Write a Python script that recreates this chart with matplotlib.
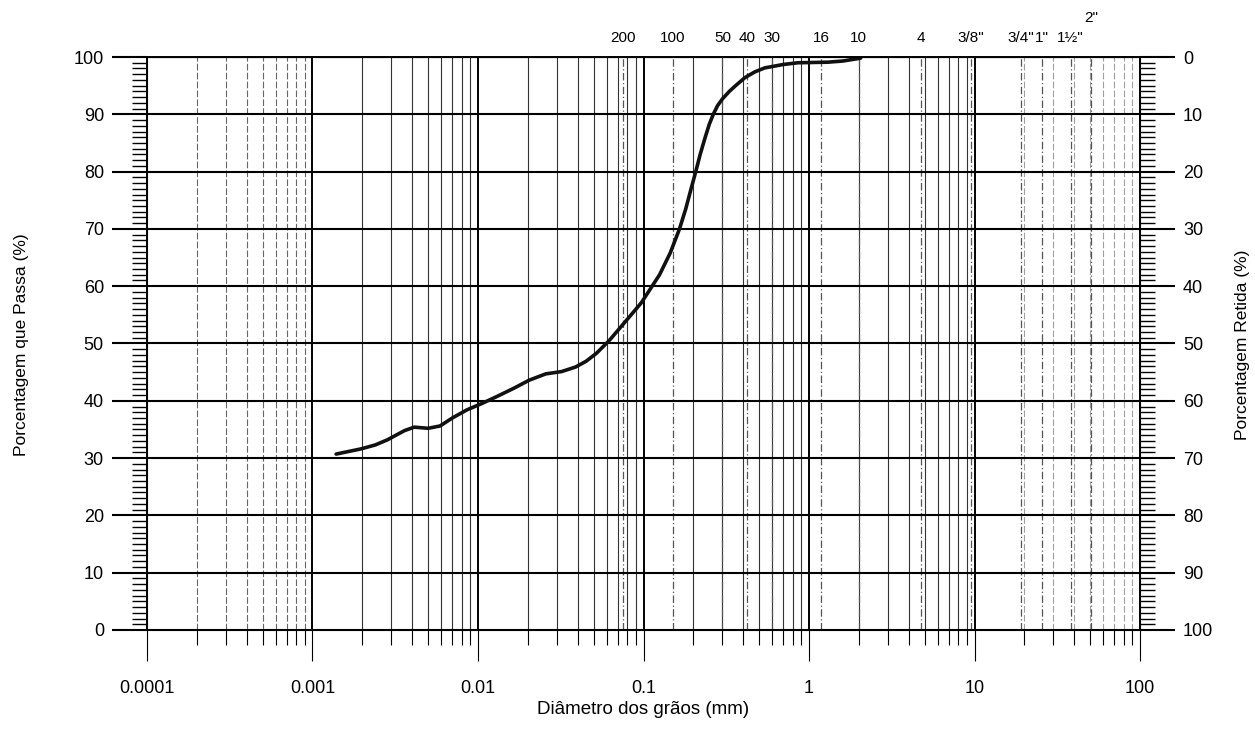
import matplotlib
matplotlib.use("Agg")
import matplotlib.pyplot as plt
from matplotlib.ticker import FixedLocator, NullFormatter, FixedFormatter

plt.rcParams['font.family'] = ['Liberation Sans', 'DejaVu Sans']

# Grain size curve (diameter mm, % passing)
diam = [0.00139, 0.00196, 0.00240, 0.00284, 0.0036, 0.00412, 0.00500, 0.00589, 0.0070,
        0.00855, 0.0105, 0.0129, 0.0165, 0.0204, 0.0257, 0.0320, 0.0389, 0.0450,
        0.0520, 0.062, 0.075, 0.097, 0.125, 0.145, 0.165, 0.180, 0.193, 0.206, 0.220,
        0.236, 0.250, 0.264, 0.280, 0.300, 0.330, 0.36, 0.41, 0.47, 0.54, 0.70, 0.86,
        1.30, 1.60, 2.05]
passing = [30.7, 31.6, 32.3, 33.2, 34.8, 35.4, 35.2, 35.6, 37.0,
           38.4, 39.5, 40.7, 42.2, 43.6, 44.7, 45.1, 45.9, 46.9,
           48.3, 50.5, 53.3, 57.1, 62.0, 65.8, 70.0, 73.5, 76.8, 79.8, 83.0,
           86.0, 88.3, 90.0, 91.5, 92.7, 94.0, 95.0, 96.4, 97.4, 98.1, 98.7, 99.0,
           99.1, 99.3, 99.8]

# Sieve openings (mm) and labels
sieve_mm = [0.075, 0.15, 0.3, 0.42, 0.6, 1.18, 2.0, 4.75, 9.5, 19.1, 25.4, 38.1, 50.8]
sieve_lbl = ['200', '100', '50', '40', '30', '16', '10', '4', '3/8"', '3/4"', '1"', '1½"', '2"']

x_ticks = [0.0001, 0.001, 0.01, 0.1, 1, 10, 100]
x_tick_lbl = ['0.0001', '0.001', '0.01', '0.1', '1', '10', '100']
y_ticks = list(range(0, 101, 10))

fig = plt.figure(figsize=(12.55, 7.31), dpi=100)
ax = fig.add_axes([0.1171, 0.1382, 0.7913, 0.7838])
ax.set_xscale('log')
ax.set_xlim(0.0001, 100)
ax.set_ylim(0, 100)

# Vertical grid lines
decades = [1e-4, 1e-3, 1e-2, 1e-1, 1, 10]
minor_pos = []
for d in decades:
    for m in range(2, 10):
        minor_pos.append(d * m)
for d in decades:
    if d >= 10:
        col, ls = '#a0a0a0', (0, (6, 2))
    elif d < 1e-3:
        col, ls = '#666666', (0, (6, 2))
    else:
        col, ls = '#333333', '-'
    for m in range(2, 10):
        ax.axvline(d * m, color=col, lw=0.8, zorder=1, ls=ls)
for d in x_ticks:
    ax.axvline(d, color='black', lw=1.4, zorder=2)
# Horizontal grid lines
for y in y_ticks:
    ax.axhline(y, color='black', lw=1.5, zorder=2)

# Sieve lines
for s in sieve_mm:
    ax.axvline(s, color='#555555', lw=0.9, ls=(0, (6, 2, 1, 2)), zorder=1.5)

# Curve
ax.plot(diam, passing, color='#111111', lw=2.6, zorder=5,
        solid_capstyle='round', solid_joinstyle='round')

# Ticks
ax.xaxis.set_major_locator(FixedLocator(x_ticks))
ax.xaxis.set_major_formatter(FixedFormatter(x_tick_lbl))
ax.xaxis.set_minor_locator(FixedLocator(minor_pos))
ax.xaxis.set_minor_formatter(NullFormatter())
ax.tick_params(axis='x', which='major', length=22, width=0.8, direction='out',
               labelsize=13, pad=14, colors='black')
ax.tick_params(axis='x', which='minor', length=11, width=0.8, direction='out')
ax.set_yticks(y_ticks)
ax.yaxis.set_minor_locator(FixedLocator([v for v in range(0, 101) if v % 10 != 0]))
ax.tick_params(axis='y', which='major', length=25, width=1.5, direction='out',
               labelsize=13, pad=6)
ax.tick_params(axis='y', which='minor', length=11, width=1.0, direction='out')
for sp in ax.spines.values():
    sp.set_linewidth(1.4)

ax.set_xlabel('Diâmetro dos grãos (mm)', fontsize=13.5, labelpad=3)

# Right axis
ax2 = ax.twinx()
ax2.set_ylim(100, 0)
ax2.set_yticks(y_ticks)
ax2.yaxis.set_minor_locator(FixedLocator([v for v in range(0, 101) if v % 10 != 0]))
ax2.tick_params(axis='y', which='major', length=25, width=1.5, direction='out',
                labelsize=13, pad=6)
ax2.tick_params(axis='y', which='minor', length=11, width=1.0, direction='out')

# Axis titles placed at reference positions
fig.text(22 / 1255, 1 - 345 / 731, 'Porcentagem que Passa (%)', rotation=90,
         ha='center', va='center', fontsize=12.5)
fig.text(1242 / 1255, 1 - 345 / 731, 'Porcentagem Retida (%)', rotation=90,
         ha='center', va='center', fontsize=12.5)

# Sieve labels on top
trans = ax.get_xaxis_transform()
for s, lbl in zip(sieve_mm, sieve_lbl):
    yy = 1.068 if lbl == '2"' else 1.033
    ax.text(s, yy, lbl, transform=trans, ha='center', va='center', fontsize=11)

fig.savefig('out.png', dpi=100)
